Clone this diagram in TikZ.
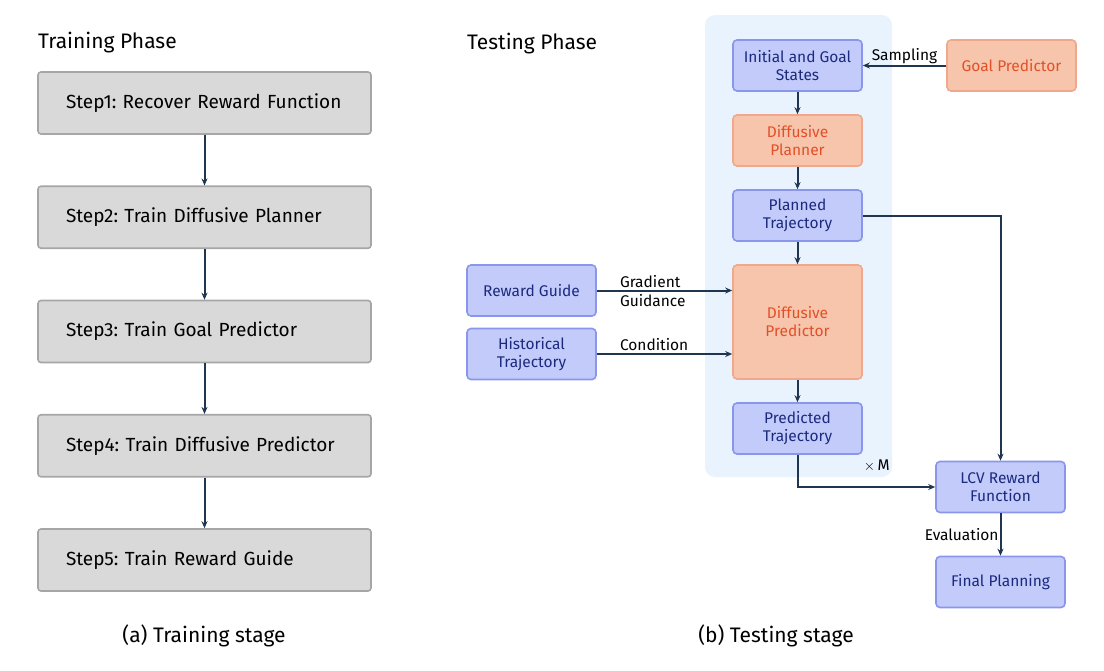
\documentclass[tikz,border=0pt]{standalone}
\usepackage{fontspec}
\setmainfont{Fira Sans}
\usetikzlibrary{arrows.meta}
\definecolor{stepfill}{HTML}{D9D9D9}
\definecolor{stepline}{HTML}{A6A6A6}
\definecolor{bluefill}{HTML}{C3CBFB}
\definecolor{blueline}{HTML}{8A96EC}
\definecolor{bluetext}{HTML}{1C2A7E}
\definecolor{orgfill}{HTML}{F7C5AB}
\definecolor{orgline}{HTML}{F0A78B}
\definecolor{orgtext}{HTML}{E2502A}
\definecolor{loopbg}{HTML}{E8F3FE}
\definecolor{arrowc}{HTML}{1F3550}
\tikzset{
  stepbox/.style={rectangle, rounded corners=3pt, draw=stepline, fill=stepfill, line width=1.6pt,
    minimum height=62pt, inner xsep=28pt, text width=277pt, align=left, font=\fontsize{19}{22}\selectfont},
  bluebox/.style={rectangle, rounded corners=4pt, draw=blueline, fill=bluefill, line width=1.6pt,
    minimum width=129pt, minimum height=51pt, align=center, text=bluetext, font=\fontsize{15.5}{18}\selectfont},
  orgbox/.style={bluebox, draw=orgline, fill=orgfill, text=orgtext},
  flow/.style={draw=arrowc, line width=2pt, -{Stealth[length=7pt,width=6pt]}},
  lbl/.style={font=\fontsize{15.5}{18}\selectfont, inner sep=1pt},
  title/.style={font=\fontsize{21}{24}\selectfont, inner sep=0pt}
}
\frenchspacing
\begin{document}
\begin{tikzpicture}[x=1pt, y=-1pt]
\useasboundingbox (0,0) rectangle (1104,670);
% training stage
\node[title, anchor=west] (trainhead) at (38,43) {Training Phase};
\foreach \i/\txt in {1/Recover Reward Function, 2/Train Diffusive Planner, 3/Train Goal Predictor,
    4/Train Diffusive Predictor, 5/Train Reward Guide} {
    \node[stepbox] (s\i) at (204.5,{103+114.25*(\i-1)}) {Step\i: \txt};
}
\foreach \a/\b in {1/2, 2/3, 3/4, 4/5} {
    \draw[flow] (s\a) -- (s\b);
}
\node[title] (capa) at (204,636) {(a) Training stage};
% testing stage
\node[title, anchor=west] (testhead) at (467,44) {Testing Phase};
\fill[loopbg, rounded corners=10pt] (705,15) rectangle (892,477);
\node[bluebox] (init) at (797.5,65.5) {Initial and Goal\\States};
\node[orgbox] (goal) at (1011.5,65.5) {Goal Predictor};
\node[orgbox] (plan) at (797.5,140.5) {Diffusive\\Planner};
\node[bluebox] (ptraj) at (797.5,215.5) {Planned\\Trajectory};
\node[orgbox, minimum height=114pt] (pred) at (797.5,322) {Diffusive\\Predictor};
\node[bluebox] (prtraj) at (797.5,428.5) {Predicted\\Trajectory};
\node[lbl, anchor=east] (times) at (891,466) {$\times$\,M};
\node[bluebox] (rguide) at (531.5,290.5) {Reward Guide};
\node[bluebox] (hist) at (531.5,354) {Historical\\Trajectory};
\node[bluebox] (lcv) at (1000.5,487) {LCV Reward\\Function};
\node[bluebox] (final) at (1000.5,582) {Final Planning};
\draw[flow] (goal.west) -- node[lbl, above] {Sampling} (init.east);
\draw[flow] (init) -- (plan);
\draw[flow] (plan) -- (ptraj);
\draw[flow] (ptraj) -- (pred);
\draw[flow] (pred) -- (prtraj);
\draw[flow] (rguide.east) -- (pred.west |- rguide.east);
\node[lbl, anchor=south west] (gradlbl) at ([xshift=22pt, yshift=2pt]rguide.east) {Gradient};
\node[lbl, anchor=north west] (guidlbl) at ([xshift=22pt, yshift=-3pt]rguide.east) {Guidance};
\draw[flow] (hist.east) -- (pred.west |- hist.east);
\node[lbl, anchor=south west] (condlbl) at ([xshift=22pt, yshift=2pt]hist.east) {Condition};
\draw[flow] (ptraj.east) -| (lcv.north);
\draw[flow] (prtraj.south) |- (lcv.west);
\draw[flow] (lcv) -- node[lbl, left] {Evaluation} (final);
\node[title] (capb) at (776,636) {(b) Testing stage};
\end{tikzpicture}
\end{document}
